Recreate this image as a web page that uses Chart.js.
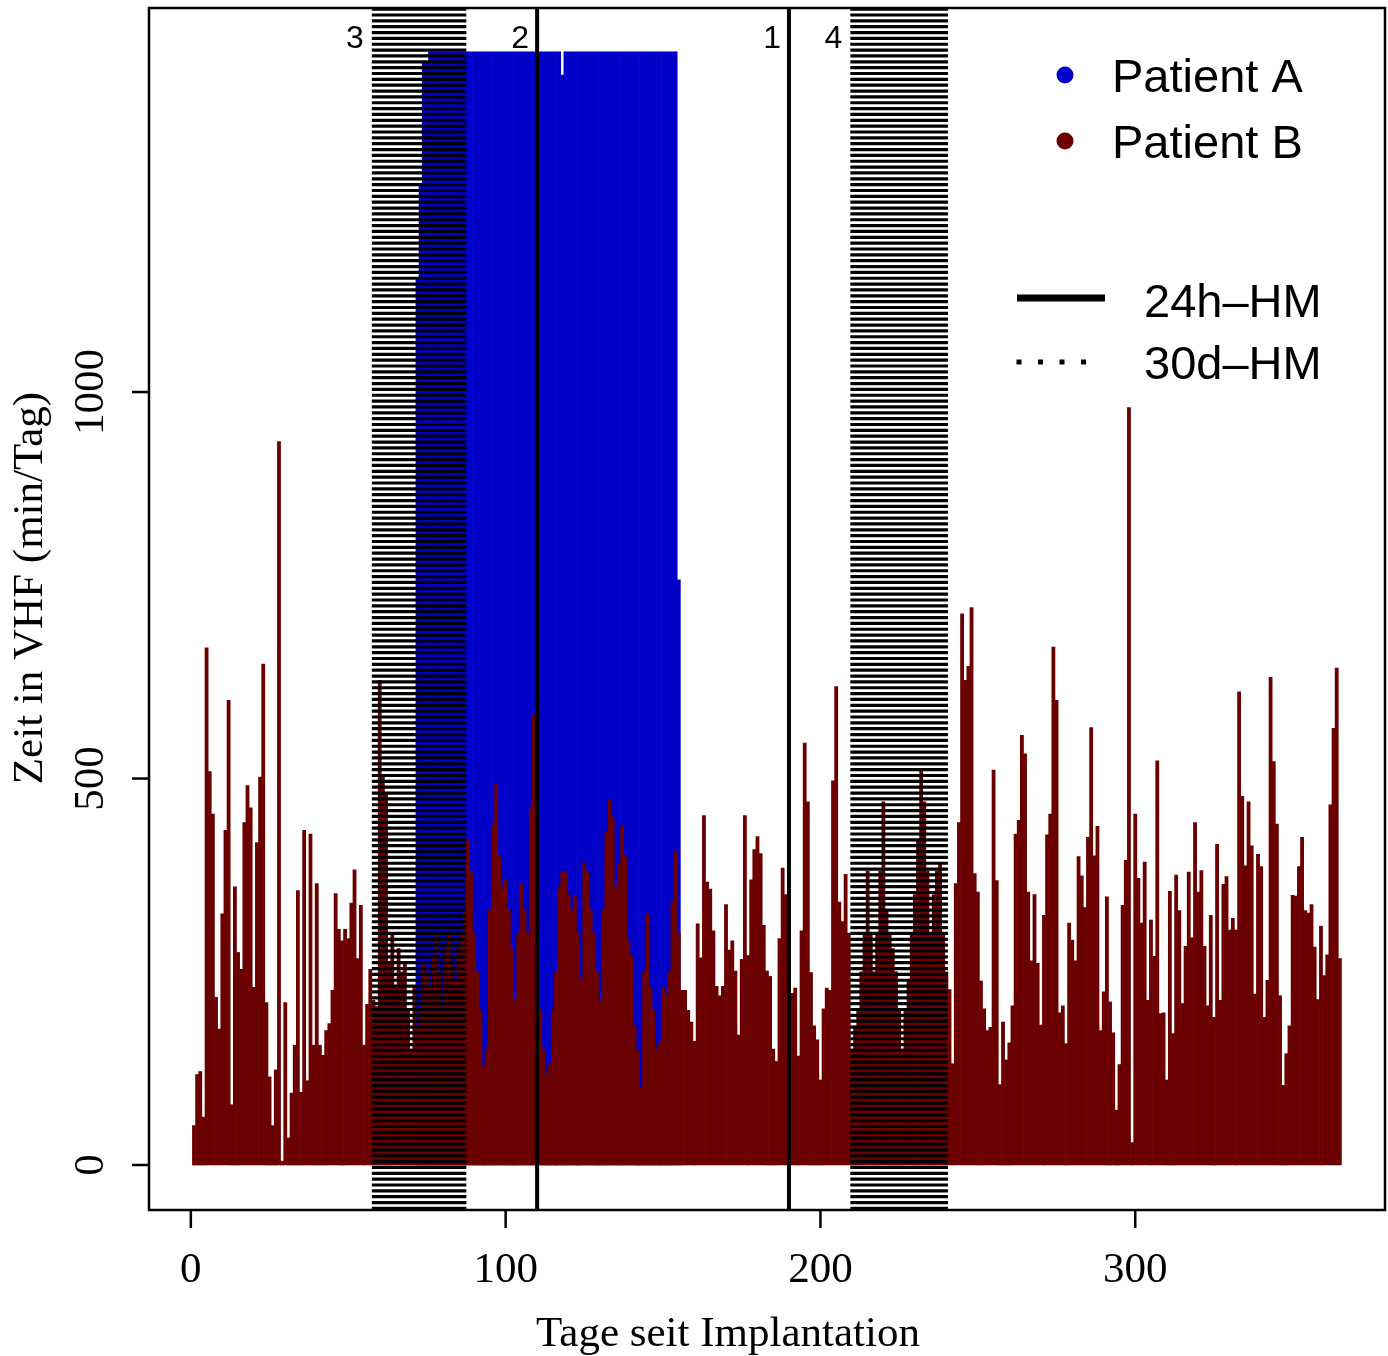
<!DOCTYPE html>
<html>
<head>
<meta charset="utf-8">
<script src="https://cdn.jsdelivr.net/npm/chart.js@4.4.0/dist/chart.umd.min.js"></script>
<style>
  html, body { margin: 0; padding: 0; background: #fff; }
  #wrap { width: 1388px; height: 1356px; }
</style>
</head>
<body>
<div id="wrap"><canvas id="vhf" width="1388" height="1356"></canvas></div>
<script>
// minutes per day in atrial fibrillation, one value per day since implantation
const patientBStart = 1;
const patientB = [
  51, 117, 121, 62, 669, 509, 454, 217, 176, 325,
  433, 601, 78, 360, 275, 253, 443, 491, 462, 230,
  417, 502, 648, 210, 114, 51, 123, 936, 5, 210,
  35, 93, 155, 355, 94, 433, 109, 428, 155, 364,
  155, 142, 174, 183, 226, 351, 305, 290, 305, 293,
  339, 382, 267, 336, 155, 208, 253,
  213, 205, 627, 505, 480, 260, 300, 230, 280, 250,
  260, 200, 150, 230, 180, 200, 260, 250, 230, 270,
  300, 250, 200, 280, 300, 260, 240, 280, 300, 330,
  420, 380, 300, 250, 200, 128, 150, 330, 440, 492,
  400, 360, 370, 330, 280, 213, 300, 364, 330, 300,
  462, 582, 440, 200, 150, 118, 130, 200, 250, 360,
  380, 380, 350, 330,
  349, 300, 241, 391, 380, 330, 300, 250, 212, 330,
  430, 472, 450, 360, 390, 438, 400, 290, 270, 180,
  148, 99, 250, 325, 230, 200, 150, 160, 230, 220,
  250, 340, 406, 300, 226, 226, 200, 185, 160,
  312, 268, 452, 366, 357, 303, 231, 219, 231, 337,
  278, 290, 251, 168, 266, 452, 271, 369, 408, 425,
  403, 310, 251,
  244, 150, 134, 293, 384, 350, 200, 222, 229, 141,
  303, 546, 470, 249, 180, 162, 110, 202, 229, 226,
  497, 619, 340, 315, 376, 300,
  150, 180, 200, 250, 300, 380, 300, 250, 300, 380,
  470, 330, 300, 280, 250, 200, 150, 200, 240, 300,
  350, 420, 510, 470, 380, 300, 350, 380, 390, 300,
  250,
  227, 131, 364, 443, 713, 627, 645, 721,
  377, 353, 238, 202, 174, 178, 511, 368, 104, 185,
  136, 158, 206, 428, 446, 556, 532, 353, 264, 350,
  261, 181, 323, 427, 454, 670, 601, 197, 206, 157,
  313, 291, 264, 399, 374, 333, 424, 566, 400, 438,
  174, 224, 347, 211, 171, 71, 130, 336, 394, 980,
  29, 454, 371, 313, 392, 213, 317, 270, 523, 196,
  197,
  110, 354, 170, 375, 329, 209, 283, 379, 294, 443,
  353, 381, 283, 206, 323, 191, 415, 213, 363, 373,
  304, 319, 304, 612, 477, 387, 470, 413, 221, 402,
  386, 191, 239, 631, 522, 441, 219, 103, 144, 180,
  349, 348, 386, 424, 329, 326, 337, 282, 214, 309,
  245, 272, 466, 565, 643, 267
];

const patientAStart = 72;
const patientA = [
  1146, 1269, 1427, 1427,
  1440, 1440, 1440, 1440, 1440, 1440, 1440, 1440, 1440, 1440,
  1440, 1440, 1440, 1440, 1440, 1440, 1440, 1440, 1440, 1440,
  1440, 1440, 1440, 1440, 1440, 1440, 1440, 1440, 1440, 1440,
  1440, 1440, 1440, 1440, 1440, 1440, 1440, 1440, 1440, 1440,
  1440, 1440,
  1410,
  1440, 1440, 1440, 1440, 1440, 1440, 1440, 1440, 1440, 1440,
  1440, 1440, 1440, 1440, 1440, 1440, 1440, 1440, 1440, 1440,
  1440, 1440, 1440, 1440, 1440, 1440, 1440, 1440, 1440, 1440,
  1440, 1440, 1440, 1440, 1440, 1440,
  757
];

// Holter recordings: 24h (solid) and 30 day windows (dotted)
const hm24Days = [110, 190];
const hm24Labels = ['2', '1'];
const hm30Windows = [[58, 87], [210, 240]];
const hm30Labels = ['3', '4'];

const xTicks = [0, 100, 200, 300];
const yTicks = [0, 500, 1000];
const xTitle = 'Tage seit Implantation';
const yTitle = 'Zeit in VHF (min/Tag)';
const seriesNames = ['Patient A', 'Patient B'];
const lineNames = ['24h\u2013HM', '30d\u2013HM'];

const blue = '#0000c8';
const darkRed = '#6b0000';
const Y_MIN = -58.2, Y_MAX = 1496.8;

const bPoints = patientB.map((v, i) => ({ x: patientBStart + i, y: v }));
const aPoints = patientA.map((v, i) => ({ x: patientAStart + i, y: v }));

const solidPts = [];
hm24Days.forEach(d => {
  solidPts.push({ x: d, y: Y_MIN }, { x: d, y: Y_MAX }, { x: d, y: null });
});
const dotPts = [];
hm30Windows.forEach(([s, e]) => {
  for (let d = s; d <= e; d++) {
    dotPts.push({ x: d, y: Y_MIN }, { x: d, y: Y_MAX }, { x: d, y: null });
  }
});

// R-like frame, axes, labels and legend
const rFrame = {
  id: 'rFrame',
  afterDraw(chart) {
    const { ctx, chartArea: a } = chart;
    const xs = chart.scales.x, ys = chart.scales.y;
    ctx.save();
    ctx.strokeStyle = '#000';
    ctx.fillStyle = '#000';
    ctx.lineWidth = 2.5;
    ctx.strokeRect(a.left, a.top, a.right - a.left, a.bottom - a.top);

    // x axis
    ctx.font = '43px "Liberation Serif"';
    ctx.textAlign = 'center';
    ctx.textBaseline = 'middle';
    xTicks.forEach(t => {
      const px = xs.getPixelForValue(t);
      ctx.beginPath();
      ctx.moveTo(px, a.bottom);
      ctx.lineTo(px, a.bottom + 18);
      ctx.stroke();
      ctx.fillText(String(t), px, a.bottom + 61);
    });
    ctx.textBaseline = 'alphabetic';
    ctx.fillText(xTitle, (a.left + a.right) / 2 - 39, a.bottom + 136);

    // y axis
    yTicks.forEach(t => {
      const py = ys.getPixelForValue(t);
      ctx.beginPath();
      ctx.moveTo(a.left, py);
      ctx.lineTo(a.left - 17, py);
      ctx.stroke();
      ctx.save();
      ctx.translate(a.left - 57, py);
      ctx.rotate(-Math.PI / 2);
      ctx.textBaseline = 'middle';
      ctx.fillText(String(t), 0, 0);
      ctx.restore();
    });
    ctx.save();
    ctx.translate(a.left - 107, 588);
    ctx.rotate(-Math.PI / 2);
    ctx.textBaseline = 'alphabetic';
    ctx.fillText(yTitle, 0, 0);
    ctx.restore();

    // recording numbers
    ctx.font = '32px "Liberation Sans"';
    ctx.textAlign = 'right';
    ctx.textBaseline = 'alphabetic';
    hm30Windows.forEach(([s], i) => {
      ctx.fillText(hm30Labels[i], xs.getPixelForValue(s - 0.5) - 8, a.top + 40);
    });
    hm24Days.forEach((d, i) => {
      ctx.fillText(hm24Labels[i], xs.getPixelForValue(d) - 8, a.top + 40);
    });

    // legend
    ctx.font = '47px "Liberation Sans"';
    ctx.textAlign = 'left';
    const dotColors = [blue, darkRed];
    const rowY = [75, 141];
    seriesNames.forEach((name, i) => {
      ctx.fillStyle = dotColors[i];
      ctx.beginPath();
      ctx.arc(1065, rowY[i], 8.5, 0, Math.PI * 2);
      ctx.fill();
      ctx.fillStyle = '#000';
      ctx.fillText(name, 1112, rowY[i] + 17);
    });
    ctx.lineWidth = 7;
    ctx.beginPath();
    ctx.moveTo(1017, 298);
    ctx.lineTo(1105, 298);
    ctx.stroke();
    ctx.lineWidth = 5;
    ctx.setLineDash([5, 16.5]);
    ctx.beginPath();
    ctx.moveTo(1016.5, 362);
    ctx.lineTo(1092, 362);
    ctx.stroke();
    ctx.setLineDash([]);
    ctx.fillText(lineNames[0], 1144, 300 + 17);
    ctx.fillText(lineNames[1], 1144, 362 + 17);
    ctx.restore();
  }
};

const ctx = document.getElementById('vhf').getContext('2d');
const vhfChart = new Chart(ctx, {
  type: 'bar',
  data: {
    datasets: [
      {
        label: '24h-HM', type: 'line', data: solidPts, order: 0,
        borderColor: '#000', borderWidth: 4, pointRadius: 0, spanGaps: false
      },
      {
        label: '30d-HM', type: 'line', data: dotPts, order: 0,
        borderColor: '#000', borderWidth: 3.2, borderDash: [3.2, 2.65],
        pointRadius: 0, spanGaps: false
      },
      {
        label: seriesNames[1], data: bPoints, order: 1, grouped: false,
        backgroundColor: darkRed, barPercentage: 1, categoryPercentage: 1
      },
      {
        label: seriesNames[0], data: aPoints, order: 2, grouped: false,
        backgroundColor: blue, barPercentage: 1, categoryPercentage: 1
      }
    ]
  },
  options: {
    responsive: false,
    animation: false,
    layout: { padding: { left: 149, top: 8, right: 3, bottom: 146 } },
    scales: {
      x: { type: 'linear', offset: false, min: -13.29, max: 379.34, display: false },
      y: { type: 'linear', min: Y_MIN, max: Y_MAX, display: false }
    },
    plugins: {
      legend: { display: false },
      tooltip: { enabled: false }
    }
  },
  plugins: [rFrame]
});
</script>
</body>
</html>
